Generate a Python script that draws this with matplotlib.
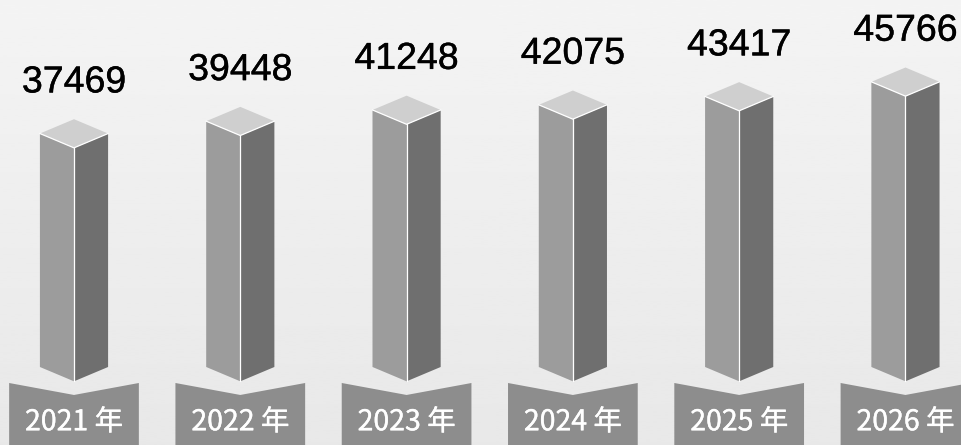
import matplotlib.pyplot as plt
import matplotlib.patheffects as pe
import numpy as np
from matplotlib.patches import Polygon

# data
years = ['2021 年', '2022 年', '2023 年', '2024 年', '2025 年', '2026 年']
values = [37469, 39448, 41248, 42075, 43417, 45766]

fig = plt.figure(figsize=(9.62, 4.45), dpi=100)
ax = fig.add_axes([0, 0, 1, 1])
x0, x1 = -0.445, 5.34
y0, y1 = -12520, 58900
ax.set_xlim(x0, x1)
ax.set_ylim(y0, y1)
ax.axis('off')

# light grey background, slightly darker at the top
grad = np.linspace(0.91, 0.955, 200).reshape(-1, 1)
ax.imshow(grad, cmap='gray', vmin=0, vmax=1, extent=[x0, x1, y1, y0],
          aspect='auto', zorder=0, origin='upper')

half = 0.205   # width of one face (category units)
dip = 2300     # half height of the top diamond (value units)

for i, (yr, v) in enumerate(zip(years, values)):
    # front face and side face
    front = Polygon([(i - half, 0), (i, -dip), (i, v - dip), (i - half, v)],
                    fc='#9c9c9c', ec='none', zorder=2)
    side = Polygon([(i, -dip), (i + half, 0), (i + half, v), (i, v - dip)],
                   fc='#6f6f6f', ec='none', zorder=2)
    top = Polygon([(i - half, v), (i, v - dip), (i + half, v), (i, v + dip)],
                  fc='#cfcfcf', ec='none', zorder=3)
    for p in (front, side, top):
        ax.add_patch(p)
    # white highlight edges
    ax.plot([i, i], [-dip, v - dip], color='white', lw=0.9, zorder=4)
    ax.plot([i - half, i, i + half], [v, v - dip, v], color='white', lw=0.9, zorder=4)

    # year tab with a notch
    tab = Polygon([(i - 0.39, -2570), (i, -4490), (i + 0.39, -2570),
                   (i + 0.39, -13000), (i - 0.39, -13000)],
                  fc='#8d8d8d', ec='none', zorder=2)
    ax.add_patch(tab)
    ax.text(i, -10150, yr, ha='center', va='baseline', color='white',
            fontsize=20.5, family=['Noto Sans CJK SC', 'DejaVu Sans'], zorder=5,
            path_effects=[pe.withStroke(linewidth=0.25, foreground='white')])

    # value label
    ax.text(i, v + 6600, str(v), ha='center', va='baseline', color='black',
            fontsize=27, family='Liberation Sans', zorder=5,
            path_effects=[pe.withStroke(linewidth=0.3, foreground='black')])

fig.savefig('out.png', dpi=100)
